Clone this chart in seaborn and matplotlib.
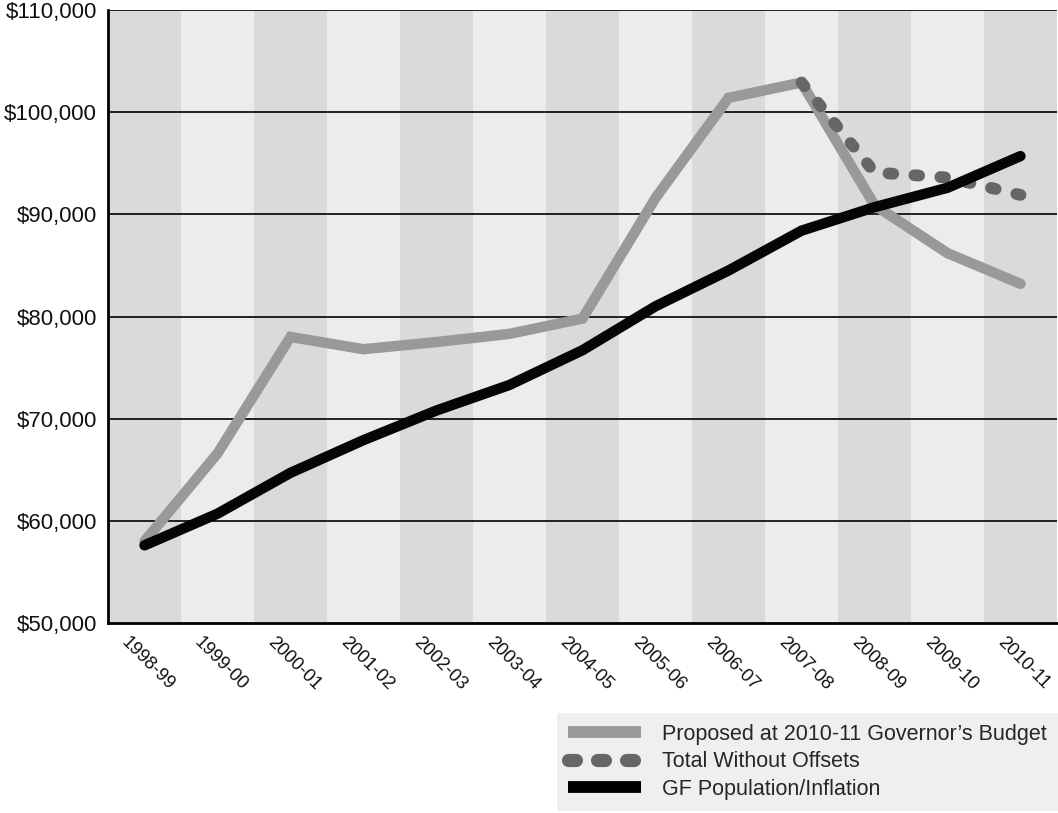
import numpy as np
import pandas as pd
import matplotlib.pyplot as plt
import matplotlib.ticker as mticker
from matplotlib.lines import Line2D
import seaborn as sns

sns.set_theme(style="white")
plt.rcParams["font.family"] = ["Liberation Sans", "DejaVu Sans"]

years = ["1998-99", "1999-00", "2000-01", "2001-02", "2002-03", "2003-04", "2004-05",
         "2005-06", "2006-07", "2007-08", "2008-09", "2009-10", "2010-11"]
proposed = [58000, 66600, 78000, 76800, 77500, 78300, 79800,
            91600, 101400, 102900, 90900, 86200, 83200]
without_offsets = [None, None, None, None, None, None, None,
                   None, None, 102900, 94100, 93600, 91900]
gf_pop = [57600, 60700, 64700, 67900, 70800, 73300, 76700,
          81000, 84500, 88400, 90700, 92600, 95700]

df = pd.DataFrame({"idx": np.arange(len(years)), "year": years,
                   "proposed": proposed, "without": without_offsets, "gf": gf_pop})

fig = plt.figure(figsize=(10.58, 8.13), dpi=100)
ax = fig.add_axes([108/1058, 190/813, 949/1058, 613/813])

# alternating column shading
for i in range(len(years)):
    ax.axvspan(i - 0.5, i + 0.5, color="#dadada" if i % 2 == 0 else "#ececec", lw=0, zorder=0)

for v in range(60000, 110001, 10000):
    ax.axhline(v, color="black", lw=1.2, zorder=1)

sns.lineplot(data=df, x="idx", y="proposed", ax=ax, color="#999999", lw=7.5,
             zorder=3, solid_joinstyle="miter")
sns.lineplot(data=df.dropna(subset=["without"]), x="idx", y="without", ax=ax,
             color="#666666", lw=8.5, zorder=4, dashes=False,
             linestyle=(0, (0.4, 1.8)), dash_capstyle="round")
sns.lineplot(data=df, x="idx", y="gf", ax=ax, color="#050505", lw=7.5,
             zorder=5, solid_joinstyle="miter")

ax.set_xlim(-0.5, len(years) - 0.5)
ax.set_ylim(50000, 110000)
ax.yaxis.set_major_locator(mticker.MultipleLocator(10000))
ax.yaxis.set_major_formatter(mticker.FuncFormatter(lambda v, p: f"${v:,.0f}"))
ax.set_xticks(np.arange(len(years) + 1) - 0.5)
ax.set_xticklabels([])
ax.set_xlabel("")
ax.set_ylabel("")
ax.tick_params(axis="both", which="major", length=5, width=1.5, color="black",
               direction="out", labelsize=16, labelcolor="#111111")
ax.tick_params(axis="x", length=6)
ax.tick_params(axis="y", pad=3)

for i, yr in enumerate(years):
    ax.text(i - 0.2, 48950, yr, rotation=-45, rotation_mode="anchor",
            ha="left", va="top", fontsize=13.2, color="#111111")

for side in ["top", "right"]:
    ax.spines[side].set_visible(False)
for side in ["left", "bottom"]:
    ax.spines[side].set_color("black")
    ax.spines[side].set_linewidth(2)

handles = [
    Line2D([], [], color="#999999", lw=8.5, solid_capstyle="butt"),
    Line2D([], [], color="#666666", lw=9.5, linestyle=(0, (0.6, 1.6)), dash_capstyle="round"),
    Line2D([], [], color="black", lw=8.5, solid_capstyle="butt"),
]
labels = ["Proposed at 2010-11 Governor\u2019s Budget", "Total Without Offsets",
          "GF Population/Inflation"]
leg = fig.legend(handles, labels, loc="lower right", bbox_to_anchor=(1.0, 0.003),
                 fontsize=15.5, frameon=True, fancybox=False, handlelength=3.4,
                 handletextpad=1.0, borderpad=0.5, labelspacing=0.3, borderaxespad=0)
leg.get_frame().set_facecolor("#ececec")
leg.get_frame().set_edgecolor("#ececec")
leg.get_frame().set_linewidth(0)

plt.savefig("out.png", dpi=100)
plt.close()
